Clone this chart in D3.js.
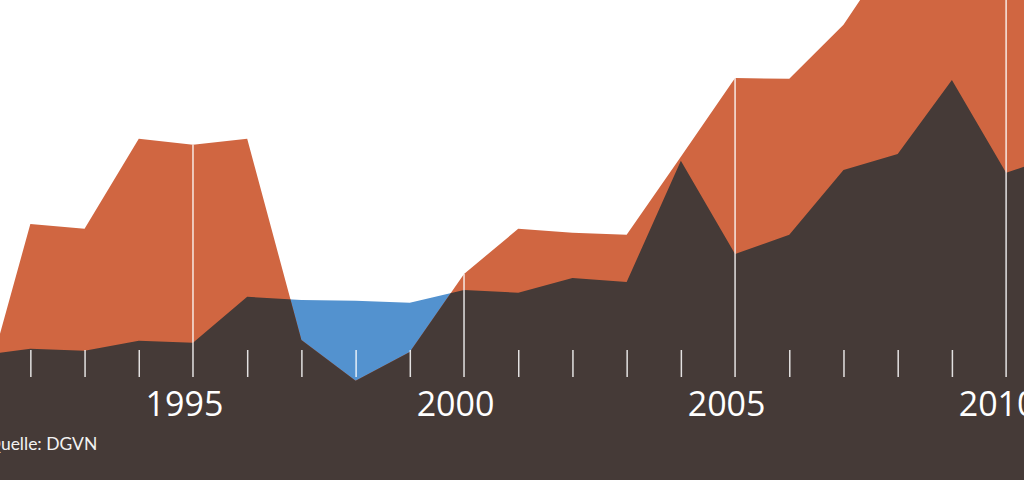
<!DOCTYPE html>
<html>
<head>
<meta charset="utf-8">
<script src="https://cdn.jsdelivr.net/npm/d3@7"></script>
<style>
    body { margin: 0; background: #fff; }
    svg { display: block; }
</style>
</head>
<body>
<div id="chart-area"></div>
<script>
// data (arbitrary units)
var years = [1991, 1992, 1993, 1994, 1995, 1996, 1997, 1998, 1999, 2000,
    2001, 2002, 2003, 2004, 2005, 2006, 2007, 2008, 2009, 2010, 2011];
var upperValues = [1.5, 6.4, 6.28, 8.53, 8.38, 8.53, 3.5, 2.48, 3.2, 5.15,
    6.28, 6.18, 6.13, 8.08, 10.05, 10.03, 11.38, 13.4, 13.0, 12.75, 12.9];
var lowerValues = [3.1, 3.28, 3.23, 3.48, 3.43, 4.58, 4.5, 4.48, 4.43, 4.75,
    4.68, 5.05, 4.95, 7.98, 5.65, 6.13, 7.75, 8.15, 10.0, 7.68, 8.13];
var labelYears = [1995, 2000, 2005, 2010];
var sourceText = "Quelle: DGVN";

var width = 1024;
var height = 480;
var axisY = 377;

var colors = {
    upper: "#d06641",
    lower: "#453a37",
    below: "#5392cf"
};

var data = years.map((d, i) => ({
    year: d,
    a: upperValues[i],
    b: lowerValues[i]
}));

var svg = d3.select("#chart-area")
    .append("svg")
    .attr("width", width)
    .attr("height", height);

var x = d3.scaleLinear()
    .domain([1991.44, 2010.33])
    .range([0, width]);

var y = d3.scaleLinear()
    .domain([0, 12])
    .range([height, 0]);

var areaA = d3.area()
    .x(d => x(d.year))
    .y0(height)
    .y1(d => y(d.a));

var areaB = d3.area()
    .x(d => x(d.year))
    .y0(height)
    .y1(d => y(d.b));

svg.append("clipPath")
    .attr("id", "clip-below-a")
    .append("path")
    .attr("d", areaA(data));

// blue shows where the lower series goes above the upper one
svg.append("path")
    .attr("fill", colors.below)
    .attr("d", areaB(data));

svg.append("path")
    .attr("fill", colors.upper)
    .attr("d", areaA(data));

svg.append("path")
    .attr("fill", colors.lower)
    .attr("clip-path", "url(#clip-below-a)")
    .attr("d", areaB(data));

// small ticks
var tickGroup = svg.append("g")
    .attr("class", "x axis")
    .attr("transform", `translate(0, ${axisY})`)
    .call(d3.axisTop(x)
        .tickValues(years.filter(d => labelYears.indexOf(d) < 0))
        .tickSize(27)
        .tickFormat(""));
tickGroup.select(".domain").remove();
tickGroup.selectAll("line")
    .attr("stroke", "#fff")
    .attr("stroke-width", 1.5)
    .attr("stroke-opacity", 0.85);

// tall lines at the labelled years
svg.append("g")
    .selectAll("line")
    .data(data.filter(d => labelYears.indexOf(d.year) >= 0))
    .enter()
    .append("line")
    .attr("x1", d => x(d.year))
    .attr("x2", d => x(d.year))
    .attr("y1", d => Math.max(0, y(Math.max(d.a, d.b))))
    .attr("y2", axisY)
    .attr("stroke", "#fff")
    .attr("stroke-width", 1.5)
    .attr("stroke-opacity", 0.85);

var labelGroup = svg.append("g")
    .attr("class", "x axis-label")
    .attr("transform", `translate(0, ${axisY})`)
    .call(d3.axisBottom(x)
        .tickValues(labelYears)
        .tickSize(0)
        .tickPadding(15)
        .tickFormat(d3.format("d")));
labelGroup.select(".domain").remove();
labelGroup.selectAll("text")
    .attr("dx", -9)
    .attr("fill", "#fff")
    .attr("font-family", "'Open Sans', sans-serif")
    .attr("font-size", "34px");

svg.append("text")
    .attr("x", -13)
    .attr("y", 450)
    .attr("fill", "#f2f2f2")
    .attr("font-family", "Lato, sans-serif")
    .attr("font-size", "17.5px")
    .text(sourceText);
</script>
</body>
</html>
